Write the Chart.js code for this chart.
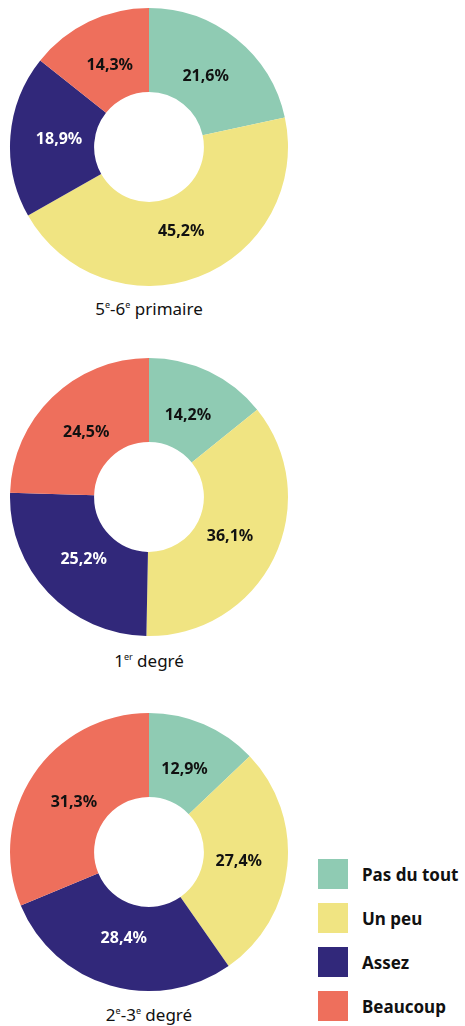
<!DOCTYPE html>
<html>
<head>
<meta charset="utf-8">
<script src="https://cdn.jsdelivr.net/npm/chart.js@4"></script>
<style>
  body { margin: 0; background: #fff; width: 465px; height: 1026px; position: relative; overflow: hidden; font-family: "Noto Sans", sans-serif; }
  canvas { position: absolute; }
  .title { position: absolute; width: 298px; left: 0; text-align: center; font-size: 17px; color: #111; }
  .title sup { font-size: 9px; vertical-align: 7px; line-height: 0; }
  .leg { position: absolute; left: 318px; height: 30px; display: flex; align-items: center; font-weight: bold; font-size: 17px; color: #111; }
  .leg span.box { width: 30px; height: 30px; margin-right: 14px; display: inline-block; }
</style>
</head>
<body>
<canvas id="c1" width="280" height="280" style="left:9px;top:7px"></canvas>
<canvas id="c2" width="280" height="280" style="left:9px;top:357px"></canvas>
<canvas id="c3" width="280" height="280" style="left:9px;top:712px"></canvas>
<div class="title" style="top:297px">5<sup>e</sup>-6<sup>e</sup> primaire</div>
<div class="title" style="top:649px">1<sup>er</sup> degré</div>
<div class="title" style="top:1003px">2<sup>e</sup>-3<sup>e</sup> degré</div>
<div id="legend"></div>
<script>
const categories = ['Pas du tout', 'Un peu', 'Assez', 'Beaucoup'];
const colors = ['#8fcbb3', '#f0e482', '#31287a', '#ee6f5c'];
const primaire56 = [21.6, 45.2, 18.9, 14.3];
const degre1 = [14.2, 36.1, 25.2, 24.5];
const degre23 = [12.9, 27.4, 28.4, 31.3];

const labelPlugin = {
    id: 'sliceLabels',
    afterDatasetsDraw(chart) {
        const ctx = chart.ctx;
        const meta = chart.getDatasetMeta(0);
        const values = chart.data.datasets[0].data;
        ctx.save();
        ctx.font = 'bold 16px "Noto Sans", sans-serif';
        ctx.textAlign = 'center';
        ctx.textBaseline = 'middle';
        meta.data.forEach(function (arc, i) {
            const mid = (arc.startAngle + arc.endAngle) / 2;
            const r = arc.innerRadius + 0.42 * (arc.outerRadius - arc.innerRadius);
            const x = arc.x + Math.cos(mid) * r;
            const y = arc.y + Math.sin(mid) * r;
            ctx.fillStyle = i === 2 ? '#ffffff' : '#111111';
            ctx.fillText(values[i].toFixed(1).replace('.', ',') + '%', x, y);
        });
        ctx.restore();
    }
};

function renderDoughnut(canvasId, data) {
    var ctx = document.getElementById(canvasId).getContext('2d');
    return new Chart(ctx, {
        type: 'doughnut',
        data: {
            labels: categories,
            datasets: [{
                data: data,
                backgroundColor: colors,
                borderWidth: 0
            }]
        },
        options: {
            responsive: false,
            animation: false,
            cutout: '39.5%',
            layout: { padding: 1 },
            plugins: {
                legend: { display: false },
                tooltip: { enabled: false }
            }
        },
        plugins: [labelPlugin]
    });
}

renderDoughnut('c1', primaire56);
renderDoughnut('c2', degre1);
renderDoughnut('c3', degre23);

// legend built from the same arrays
var legend = document.getElementById('legend');
categories.forEach(function (name, i) {
    var row = document.createElement('div');
    row.className = 'leg';
    row.style.top = (859 + i * 44) + 'px';
    row.innerHTML = '<span class="box" style="background:' + colors[i] + '"></span>' + name;
    legend.appendChild(row);
});
</script>
</body>
</html>
